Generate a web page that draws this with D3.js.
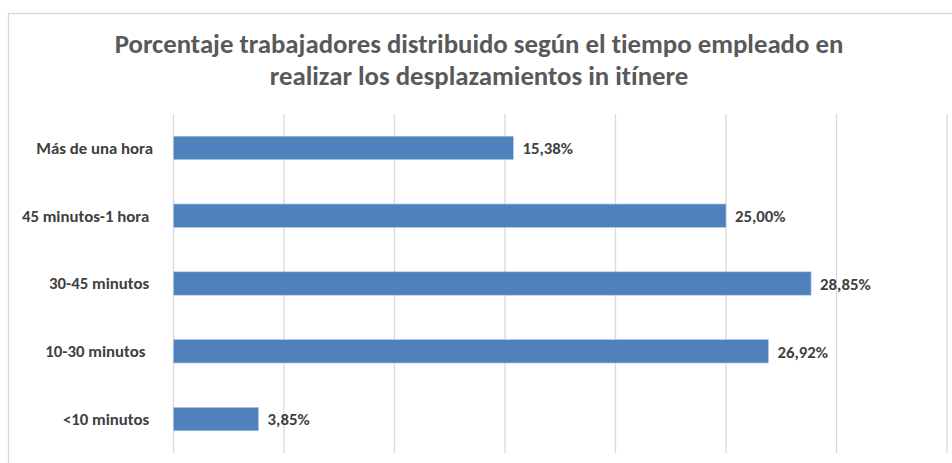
<!DOCTYPE html>
<html>
<head>
<meta charset="utf-8">
<script src="https://cdn.jsdelivr.net/npm/d3@7"></script>
<style>
  body { margin: 0; background: #fff; }
  text { white-space: pre; font-variant-ligatures: none; }
</style>
</head>
<body>
<div id="chart"></div>
<script>
// data
var categories = ["Más de una hora", "45 minutos-1 hora ", "30-45 minutos ", "10-30 minutos  ", "<10 minutos "];
var values = [15.38, 25.00, 28.85, 26.92, 3.85];
var valueLabels = ["15,38%", "25,00%", "28,85%", "26,92%", "3,85%"];
var gridTicks = [0, 5, 10, 15, 20, 25, 30, 35];
var titleLines = ["Porcentaje trabajadores distribuido según el tiempo empleado en",
	"realizar los desplazamientos in itínere"];

var W = 952, H = 463;
var font = "Carlito, 'Open Sans', 'DejaVu Sans', sans-serif";

var svg = d3.select("#chart").append("svg")
	.attr("width", W).attr("height", H);

// chart frame
svg.append("rect")
	.attr("x", 8.5).attr("y", 13.5)
	.attr("width", 960).attr("height", 470)
	.attr("fill", "#fff")
	.attr("stroke", "#d9d9d9")
	.attr("stroke-width", 1.3);

// title
var titleW = [726, 425];
titleLines.forEach(function(line, i) {
	var t = svg.append("text")
		.attr("x", 479)
		.attr("y", 53 + i * 32)
		.attr("text-anchor", "middle")
		.attr("fill", "#595959")
		.style("font-family", font)
		.style("font-weight", "bold")
		.style("font-size", "26.8px")
		.text(line);
	if (t.node().getComputedTextLength() > titleW[i] + 6) {
		t.attr("textLength", titleW[i]).attr("lengthAdjust", "spacingAndGlyphs");
	}
});

var x = d3.scaleLinear().domain([0, 35]).range([173.5, 947]);
var y = d3.scaleBand().domain(categories).range([114, 453])
	.paddingInner(0.655).paddingOuter(0.3275);

// vertical gridlines
svg.append("g")
	.selectAll("line")
	.data(gridTicks)
	.enter().append("line")
	.attr("x1", function(d) { return x(d); })
	.attr("x2", function(d) { return x(d); })
	.attr("y1", 114).attr("y2", 453)
	.attr("stroke", "#d9d9d9")
	.attr("stroke-width", 1.3);

// category axis labels
var yAxis = svg.append("g")
	.attr("transform", "translate(153,0)")
	.call(d3.axisLeft(y).tickSize(0).tickPadding(0));
yAxis.select(".domain").remove();
yAxis.selectAll("text")
	.attr("fill", "#404040")
	.style("font-family", font)
	.style("font-weight", "bold")
	.style("font-size", "16.8px")
	.attr("dy", "0.35em");

// bars
svg.append("g")
	.selectAll("rect")
	.data(values)
	.enter().append("rect")
	.attr("x", x(0))
	.attr("y", function(d, i) { return y(categories[i]); })
	.attr("width", function(d) { return x(d) - x(0); })
	.attr("height", y.bandwidth())
	.attr("fill", "#4f81bd")
	.attr("stroke", "#b4c9e4")
	.attr("stroke-width", 0.6);

// value labels
svg.append("g")
	.selectAll("text")
	.data(values)
	.enter().append("text")
	.attr("x", function(d) { return x(d) + 9; })
	.attr("y", function(d, i) { return y(categories[i]) + y.bandwidth() / 2; })
	.attr("dy", "0.38em")
	.attr("fill", "#404040")
	.style("font-family", font)
	.style("font-weight", "bold")
	.style("font-size", "16.8px")
	.text(function(d, i) { return valueLabels[i]; });
</script>
</body>
</html>
